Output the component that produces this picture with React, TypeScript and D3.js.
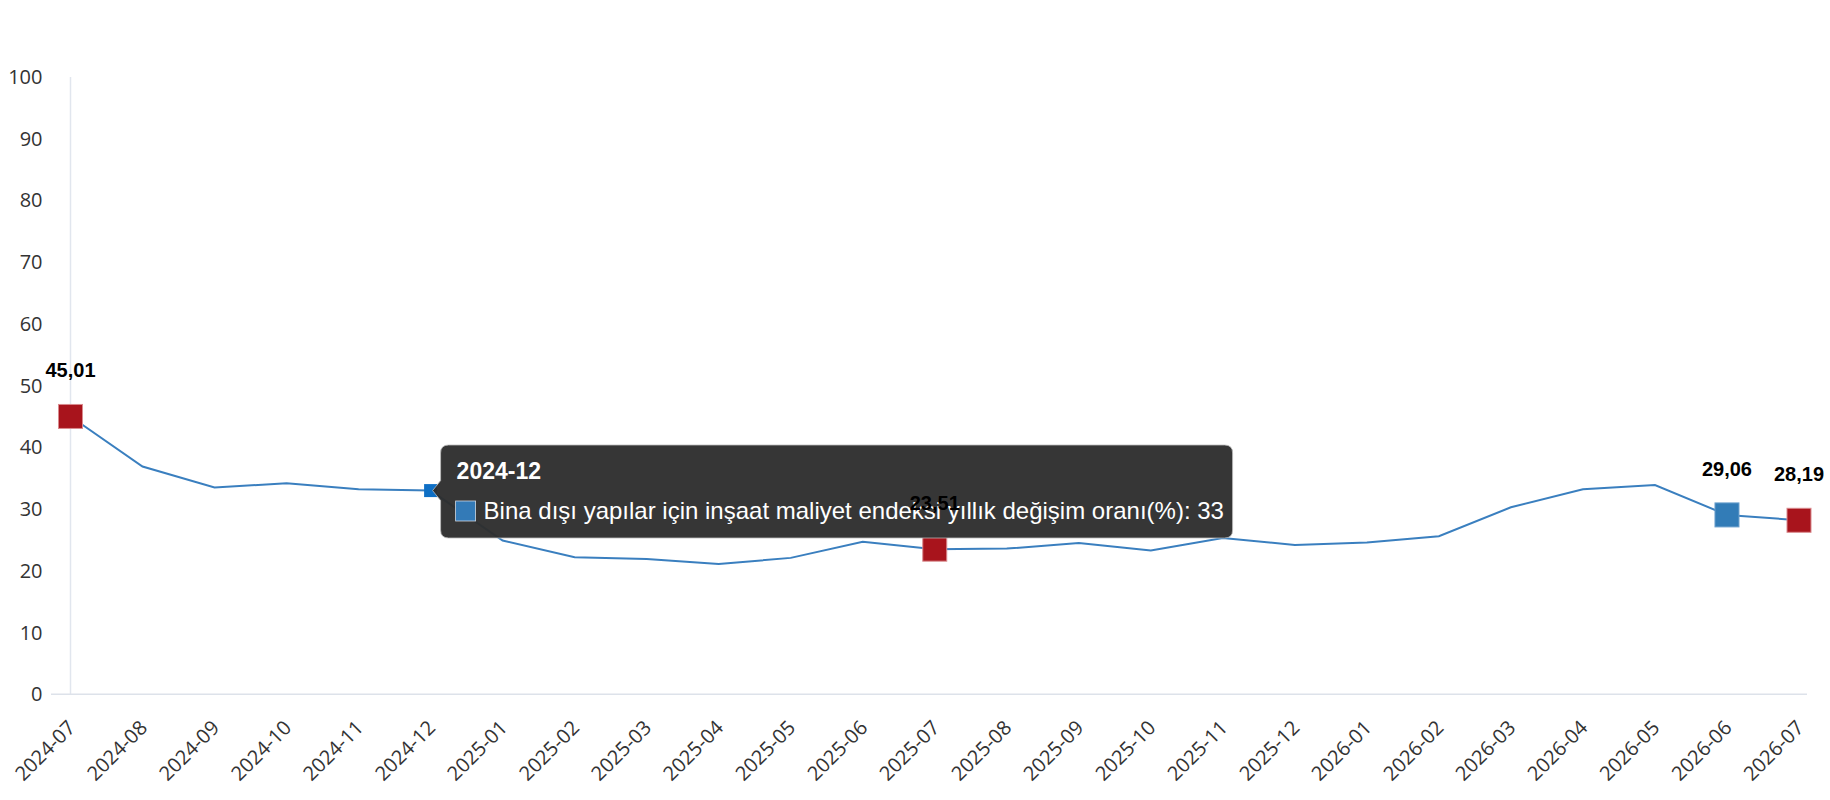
import * as d3 from 'd3';
import React from 'react';

// months on the x axis
const months: string[] = [
  '2024-07', '2024-08', '2024-09', '2024-10', '2024-11', '2024-12',
  '2025-01', '2025-02', '2025-03', '2025-04', '2025-05', '2025-06',
  '2025-07', '2025-08', '2025-09', '2025-10', '2025-11', '2025-12',
  '2026-01', '2026-02', '2026-03', '2026-04', '2026-05', '2026-06', '2026-07',
];

// yearly change (%) of the construction cost index for non-building structures
const values: number[] = [
  45.01, 36.9, 33.5, 34.2, 33.2, 33,
  24.9, 22.2, 21.9, 21.1, 22.1, 24.7,
  23.51, 23.6, 24.5, 23.3, 25.3, 24.2,
  24.6, 25.6, 30.3, 33.2, 33.9, 29.06, 28.19,
];

const yTicks: number[] = [0, 10, 20, 30, 40, 50, 60, 70, 80, 90, 100];

// highlighted points
const redPoints: number[] = [0, 12, 24];
const bluePoints: number[] = [23];
const hoverIndex: number = 5;

const seriesName: string = 'Bina dışı yapılar için inşaat maliyet endeksi yıllık değişim oranı(%)';

const width: number = 1830;
const height: number = 800;
const axisFont: string = '"Open Sans", "Noto Sans", sans-serif';
const labelFont: string = '"Liberation Sans", Arial, sans-serif';

const fmt = (v: number) => v.toFixed(2).replace('.', ',');

export default function App() {
  const xScale: any = d3.scalePoint<string>().domain(months).range([70.5, 1799]);
  const yScale: any = d3.scaleLinear().domain([0, 100]).range([694.3, 77]);

  const line: any = d3.line<number>()
    .x((d: number, i: number) => xScale(months[i]))
    .y((d: number) => yScale(d));

  const marked: number[] = [...redPoints, ...bluePoints];

  // tooltip position
  const hx: number = xScale(months[hoverIndex]);
  const hy: number = yScale(values[hoverIndex]);
  const tipLeft: number = hx + 10;
  const tipTop: number = 445;
  const tipW: number = 792;
  const tipH: number = 93;

  return (
    <svg width={width} height={height} style={{ position: 'absolute', left: 0, top: 0, background: '#fff' }}>
      {/* axis lines */}
      <line x1={70.5} x2={70.5} y1={yScale(100)} y2={yScale(0)} stroke="#e1e6ee" strokeWidth={1.5} />
      <line x1={51} x2={1807} y1={yScale(0)} y2={yScale(0)} stroke="#dde2ea" strokeWidth={1.5} />

      {/* y tick labels */}
      {yTicks.map((t: number) => (
        <text key={t} x={42.5} y={yScale(t)} dy="0.35em" textAnchor="end"
          fontFamily={axisFont} fontSize={20} fill="#333">{t}</text>
      ))}

      {/* x tick labels */}
      {months.map((m: string) => (
        <text key={m} transform={`translate(${xScale(m) + 6},${729}) rotate(-45)`} textAnchor="end"
          fontFamily={axisFont} fontSize={20} fill="#333">{m}</text>
      ))}

      {/* series line */}
      <path d={line(values)} fill="none" stroke="#3a7fbf" strokeWidth={2} />

      {/* highlighted markers */}
      {marked.map((i: number) => (
        <rect key={i} x={xScale(months[i]) - 12} y={yScale(values[i]) - 12} width={24} height={24}
          fill={redPoints.includes(i) ? '#a8141c' : '#327cb7'}
          stroke={redPoints.includes(i) ? '#d98a8e' : '#6a9fcc'} strokeWidth={1} />
      ))}

      {/* hover marker */}
      <rect x={hx - 6.5} y={hy - 6.5} width={13} height={13} fill="#0e6fc5" />

      {/* tooltip */}
      <g opacity={0.96}>
        <path d={`M${tipLeft + 8},${tipTop} H${tipLeft + tipW - 8} Q${tipLeft + tipW},${tipTop} ${tipLeft + tipW},${tipTop + 8}
          V${tipTop + tipH - 8} Q${tipLeft + tipW},${tipTop + tipH} ${tipLeft + tipW - 8},${tipTop + tipH}
          H${tipLeft + 8} Q${tipLeft},${tipTop + tipH} ${tipLeft},${tipTop + tipH - 8}
          V${hy + 10} L${hx + 2},${hy} L${tipLeft},${hy - 10}
          V${tipTop + 8} Q${tipLeft},${tipTop} ${tipLeft + 8},${tipTop} Z`}
          fill="#2e2e2e" stroke="#bbb" strokeWidth={0.8} />
      </g>
      <text x={tipLeft + 16} y={479} fontFamily={labelFont} fontSize={23} fontWeight="bold" fill="#fff">
        {months[hoverIndex]}
      </text>
      <rect x={tipLeft + 15} y={501} width={20} height={20} fill="#337ab7" stroke="#cfd8e3" strokeWidth={0.8} />
      <text x={tipLeft + 43} y={519} fontFamily={labelFont} fontSize={24} fill="#fff">
        {`${seriesName}: ${Math.round(values[hoverIndex])}`}
      </text>

      {/* value labels */}
      {marked.map((i: number) => (
        <text key={`l${i}`} x={xScale(months[i])} y={yScale(values[i]) - 39} textAnchor="middle"
          fontFamily={labelFont} fontSize={20} fontWeight="bold" fill="#000">{fmt(values[i])}</text>
      ))}
    </svg>
  );
}
